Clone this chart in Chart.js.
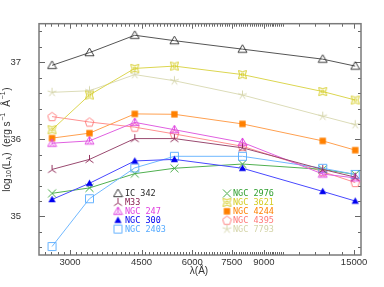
<!DOCTYPE html>
<html><head><meta charset="utf-8">
<script src="https://cdn.jsdelivr.net/npm/chart.js@4/dist/chart.umd.min.js"></script>
<style>html,body{margin:0;padding:0;background:#fff}#wrap{width:384px;height:287px}</style>
</head><body><div id="wrap"><canvas id="c" width="384" height="287"></canvas></div>
<script>
// ---- data ----
const wavelengths = [2710, 3350, 4330, 5420, 7970, 12560, 15100];
const galaxyNames = ['IC 342','M33','NGC 247','NGC 300','NGC 2403','NGC 2976','NGC 3621','NGC 4244','NGC 4395','NGC 7793'];
const ic342   = [36.96, 37.125, 37.35, 37.28, 37.17, 37.04, 36.95];
const m33     = [35.61, 35.74, 36.01, 36.01, 35.89, 35.61, 35.51];
const ngc247  = [35.95, 35.98, 36.22, 36.125, 35.96, 35.55, 35.50];
const ngc300  = [35.22, 35.43, 35.72, 35.74, 35.625, 35.325, 35.20];
const ngc2403 = [34.61, 35.23, 35.63, 35.78, 35.78, 35.625, 35.545];
const ngc2976 = [35.30, 35.37, 35.555, 35.625, 35.68, 35.61, 35.545];
const ngc3621 = [36.125, 36.575, 36.92, 36.95, 36.84, 36.62, 36.51];
const ngc4244 = [36.016, 36.08, 36.33, 36.325, 36.20, 35.98, 35.86];
const ngc4395 = [36.295, 36.225, 36.158, 36.07, 35.91, 35.58, 35.44];
const ngc7793 = [36.61, 36.63, 36.84, 36.76, 36.575, 36.30, 36.19];
const xTickLabels = [3000, 4500, 6000, 7500, 9000, 15000];
const yTickLabels = [35, 36, 37];

const seriesValues = [ic342, m33, ngc247, ngc300, ngc2403, ngc2976, ngc3621, ngc4244, ngc4395, ngc7793];
const markerColors = ['#2a2a2a','#8a2050','#e040e0','#0000f0','#55aaff','#30a030','#d4cc20','#ff8000','#ff7878','#d4d4a8'];
const lineColors   = ['#555555','#9a4a70','#e060e0','#4848ff','#70b8ff','#50b050','#dcd650','#ffa050','#ff9090','#dcdcb8'];
const markerTypes  = ['tri','tristar','tri2','trifill','square','x','concave','sqfill','pent','star'];

function makeMarker(type, color){
  const s = 11, c = document.createElement('canvas');
  c.width = s; c.height = s;
  const g = c.getContext('2d');
  const cx = 5.5, cy = 5.5;
  g.strokeStyle = color; g.fillStyle = color; g.lineWidth = 0.9;
  g.beginPath();
  if (type === 'tri' || type === 'tri2') {
    g.moveTo(cx, cy-4.5); g.lineTo(cx+4.5, cy+3.2); g.lineTo(cx-4.5, cy+3.2); g.closePath(); g.stroke();
    if (type === 'tri2') { g.beginPath(); g.moveTo(cx, cy-4.5); g.lineTo(cx, cy+0.6); g.moveTo(cx,cy+0.6); g.lineTo(cx-2.6,cy+3.2); g.moveTo(cx,cy+0.6); g.lineTo(cx+2.6,cy+3.2); g.stroke(); }
  } else if (type === 'tristar') {
    g.moveTo(cx, cy-4.5); g.lineTo(cx, cy+0.5); g.lineTo(cx-4, cy+3.3);
    g.moveTo(cx, cy+0.5); g.lineTo(cx+4, cy+3.3); g.stroke();
  } else if (type === 'trifill') {
    g.moveTo(cx, cy-3.8); g.lineTo(cx+3.6, cy+2.8); g.lineTo(cx-3.6, cy+2.8); g.closePath(); g.fill();
  } else if (type === 'square') {
    g.rect(cx-4, cy-4, 8, 8); g.stroke();
  } else if (type === 'sqfill') {
    g.rect(cx-3.2, cy-3.2, 6.4, 6.4); g.fill();
  } else if (type === 'x') {
    g.moveTo(cx-4, cy-4); g.lineTo(cx+4, cy+4); g.moveTo(cx+4, cy-4); g.lineTo(cx-4, cy+4); g.stroke();
  } else if (type === 'concave') {
    const r = 4;
    g.moveTo(cx-r, cy-r);
    g.quadraticCurveTo(cx, cy-r+2.2, cx+r, cy-r);
    g.quadraticCurveTo(cx+r-2.2, cy, cx+r, cy+r);
    g.quadraticCurveTo(cx, cy+r-2.2, cx-r, cy+r);
    g.quadraticCurveTo(cx-r+2.2, cy, cx-r, cy-r);
    g.closePath(); g.stroke();
    g.beginPath(); g.rect(cx-1.3, cy-1.3, 2.6, 2.6); g.stroke();
  } else if (type === 'pent') {
    for (let i=0;i<5;i++){ const a = -Math.PI/2 + i*2*Math.PI/5; const px = cx+4.6*Math.cos(a), py = cy+0.4+4.6*Math.sin(a); if(i===0) g.moveTo(px,py); else g.lineTo(px,py);} g.closePath(); g.stroke();
  } else if (type === 'star') {
    for (let i=0;i<5;i++){ const a = -Math.PI/2 + i*2*Math.PI/5; g.moveTo(cx,cy); g.lineTo(cx+4.6*Math.cos(a), cy+4.6*Math.sin(a)); } g.stroke();
  }
  return c;
}

const markers = markerTypes.map((t,i)=>makeMarker(t, markerColors[i]));

const datasets = galaxyNames.map((name,i)=>({
  label: name,
  data: wavelengths.map((w,k)=>({x:w, y:seriesValues[i][k]})),
  showLine: true,
  borderColor: lineColors[i],
  borderWidth: 1,
  pointStyle: markers[i],
  pointRadius: 5,
  tension: 0
}));

const frameTicks = {
  id: 'frameTicks',
  beforeDatasetsDraw(chart){
    const {ctx, chartArea:a, scales:{x,y}} = chart;
    ctx.save();
    ctx.strokeStyle = '#666'; ctx.lineWidth = 1;
    ctx.beginPath();
    const xt = [];
    for (let v=2600; v<=10000; v+=100) xt.push(v);
    for (let v=11000; v<=15000; v+=1000) xt.push(v);
    xt.forEach(v=>{
      const px = Math.round(x.getPixelForValue(v))+0.5;
      if (px<=a.left||px>=a.right) return;
      const len = xTickLabels.includes(v)?5:3;
      ctx.moveTo(px, a.bottom); ctx.lineTo(px, a.bottom-len);
      ctx.moveTo(px, a.top); ctx.lineTo(px, a.top+len);
    });
    for (let k=173; k<=187; k++){
      const v = k/5;
      const py = Math.round(y.getPixelForValue(v))+0.5;
      const len = (k%5===0)?6:3;
      ctx.moveTo(a.left, py); ctx.lineTo(a.left+len, py);
      ctx.moveTo(a.right, py); ctx.lineTo(a.right-len, py);
    }
    ctx.stroke();
    ctx.strokeStyle = '#7a7a7a'; ctx.lineWidth = 1.5;
    ctx.strokeRect(a.left, a.top, a.right-a.left, a.bottom-a.top);
    ctx.restore();
  },
  afterDraw(chart){
    const {ctx, chartArea:a} = chart;
    ctx.save();
    // legend
    ctx.font = '8.5px "DejaVu Sans Mono", "Liberation Mono", monospace';
    ctx.textBaseline = 'middle'; ctx.textAlign = 'left';
    chart.data.datasets.forEach((ds,i)=>{
      const col = i<5?0:1, row = i%5;
      const mx = col===0?118:227, tx = col===0?125:233;
      const yy = 193.5 + row*8.9;
      const m = markers[i];
      ctx.drawImage(m, mx - m.width/2, yy - m.height/2);
      ctx.fillStyle = markerColors[i];
      ctx.fillText(ds.label, tx, yy+0.5);
    });
    // x title
    ctx.fillStyle = '#333';
    ctx.font = '10px "Liberation Sans", Arial, sans-serif';
    ctx.textAlign = 'center';
    ctx.fillText('λ(Å)', 199, 271);
    // y title
    ctx.translate(7, (a.top+a.bottom)/2);
    ctx.rotate(-Math.PI/2);
    const big = '10px "Liberation Sans", Arial, sans-serif', small = '7px "Liberation Sans", Arial, sans-serif';
    const parts = [['log',big,0],['10',small,2.5],['(L',big,0],['λ',small,2.5],[')  (erg s',big,0],['−1',small,-3.5],['  Å',big,0],['−1',small,-3.5],[')',big,0]];
    let total = 0;
    parts.forEach(p=>{ctx.font=p[1]; total += ctx.measureText(p[0]).width + 0.6;});
    let cx = -total/2;
    ctx.textAlign = 'left';
    parts.forEach(p=>{ctx.font=p[1]; ctx.fillText(p[0], cx, p[2]); cx += ctx.measureText(p[0]).width + 0.6;});
    ctx.restore();
  }
};

new Chart(document.getElementById('c'), {
  type: 'scatter',
  data: { datasets },
  options: {
    responsive: false, animation: false, devicePixelRatio: 1,
    layout: { padding: { top: 13, right: 23, left: 0, bottom: 0 } },
    plugins: { legend: { display: false }, tooltip: { enabled: false } },
    scales: {
      x: {
        type: 'logarithmic', min: 2517, max: 15600,
        grid: { display: false, drawTicks: false }, border: { display: false },
        afterBuildTicks: s => { s.ticks = xTickLabels.map(v=>({value:v})); },
        afterFit: s => { s.height = 32; },
        ticks: { autoSkip: false, maxRotation: 0, padding: 2, color: '#333',
          font: { family: '"Liberation Sans", Arial, sans-serif', size: 9.5 },
          callback: v => String(v) }
      },
      y: {
        min: 34.5, max: 37.5,
        grid: { display: false, drawTicks: false }, border: { display: false },
        afterBuildTicks: s => { s.ticks = yTickLabels.map(v=>({value:v})); },
        afterFit: s => { s.width = 39; },
        ticks: { padding: 18, color: '#333',
          font: { family: '"Liberation Sans", Arial, sans-serif', size: 9.5 },
          callback: v => String(v) }
      }
    }
  },
  plugins: [frameTicks]
});
</script></body></html>
